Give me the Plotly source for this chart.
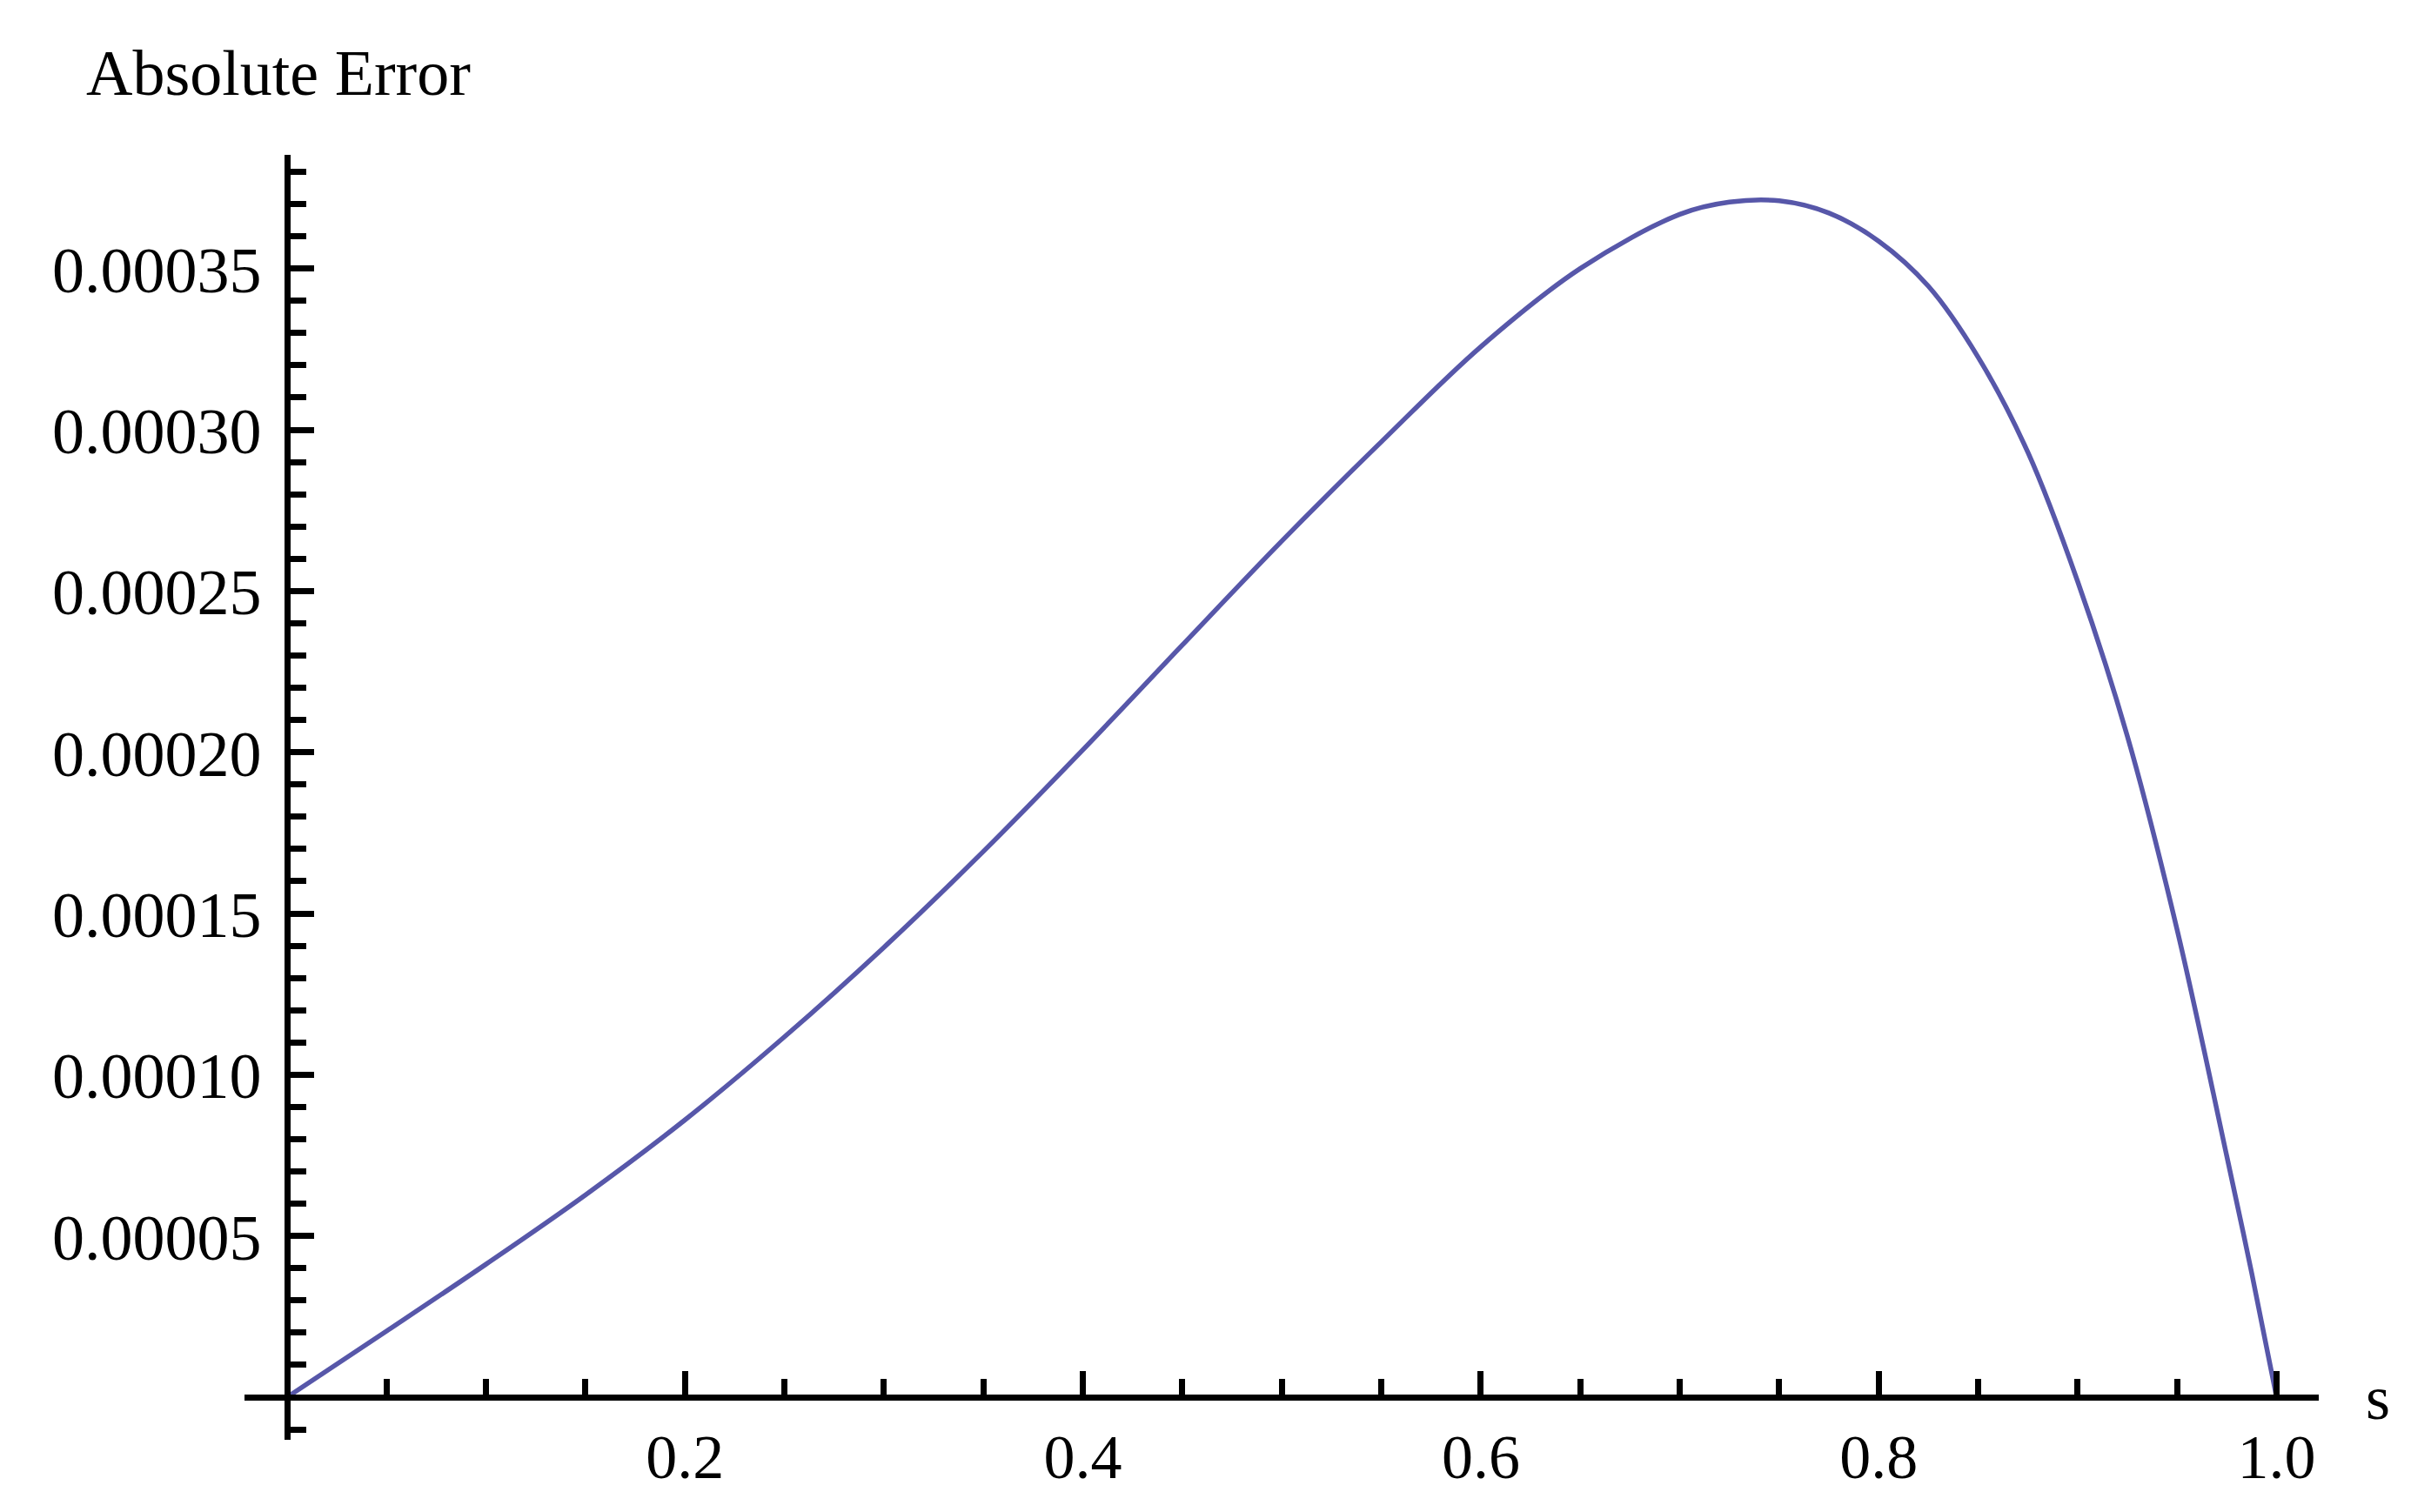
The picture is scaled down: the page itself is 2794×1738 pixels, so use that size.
import plotly.graph_objects as go

# Data
s_values = [0.0, 0.05, 0.10, 0.15, 0.20, 0.25, 0.30, 0.35, 0.40, 0.45, 0.50, 0.55,
            0.60, 0.65, 0.70, 0.725, 0.75, 0.775, 0.80, 0.825, 0.85, 0.875, 0.90,
            0.925, 0.95, 0.975, 0.9875, 1.0]
abs_error = [0.0, 2.05e-5, 4.125e-5, 6.275e-5, 8.60e-5, 1.1175e-4, 1.395e-4, 1.6925e-4,
             2.0075e-4, 2.3325e-4, 2.655e-4, 2.9625e-4, 3.2575e-4, 3.500e-4, 3.668e-4,
             3.706e-4, 3.710e-4, 3.672e-4, 3.585e-4, 3.445e-4, 3.225e-4, 2.930e-4,
             2.530e-4, 2.050e-4, 1.450e-4, 7.47e-5, 3.85e-5, 0.0]

x_tickvals = [0.2, 0.4, 0.6, 0.8, 1.0]
x_ticktext = ["0.2", "0.4", "0.6", "0.8", "1.0"]
y_tickvals = [5e-5, 1e-4, 1.5e-4, 2e-4, 2.5e-4, 3e-4, 3.5e-4]
y_ticktext = ["0.00005", "0.00010", "0.00015", "0.00020", "0.00025", "0.00030", "0.00035"]

# the page adds an 8px body margin, so the figure is made 16px smaller
W, H = 2778, 1722
ml, mt = 273, 170
PW, PH = 2384, 1477
mr = W - ml - PW
mb = H - mt - PH
x_range = [-0.02143, 1.02121]
y_range = [-1.3215e-5, 3.8525e-4]

xpos = (0 - y_range[0]) / (y_range[1] - y_range[0])
ypos = (0 - x_range[0]) / (x_range[1] - x_range[0])


def px_to_paper_x(px):
    return (px - ml) / PW


def px_to_paper_y(py):
    return (H - mb - py) / PH


FONT = "Liberation Serif, Times New Roman, serif"
FS_TICK = 72
FS_YTICK = 74
FS_TITLE = 74

fig = go.Figure()
fig.add_trace(go.Scatter(
    x=s_values, y=abs_error, mode="lines",
    line=dict(color="#5757a9", width=5.5, shape="spline", smoothing=1.0),
    showlegend=False, hoverinfo="skip",
))

annotations = [
    dict(text="Absolute Error", xref="paper", yref="paper",
         x=px_to_paper_x(89), y=px_to_paper_y(76),
         xanchor="left", yanchor="middle", showarrow=False,
         font=dict(family=FONT, size=FS_TITLE, color="black")),
    dict(text="s", xref="paper", yref="paper",
         x=px_to_paper_x(2725), y=px_to_paper_y(1599),
         xanchor="center", yanchor="middle", showarrow=False,
         font=dict(family=FONT, size=FS_TICK, color="black")),
]
# y-axis tick labels, placed on the y axis scale
for v, t in zip(y_tickvals, y_ticktext):
    annotations.append(dict(
        text=t, xref="paper", yref="y", x=px_to_paper_x(295), y=v,
        xanchor="right", yanchor="middle", showarrow=False, yshift=-2,
        font=dict(family=FONT, size=FS_YTICK, color="black")))

fig.update_layout(
    width=W, height=H,
    margin=dict(l=ml, r=mr, t=mt, b=mb, pad=0),
    paper_bgcolor="white", plot_bgcolor="white",
    font=dict(family=FONT, size=FS_TICK, color="black"),
    xaxis=dict(
        range=x_range, anchor="free", position=xpos,
        showgrid=False, zeroline=False,
        showline=True, linecolor="black", linewidth=7,
        tickmode="array", tickvals=x_tickvals, ticktext=x_ticktext,
        ticks="inside", ticklen=27, tickwidth=7, tickcolor="black",
        ticklabelstandoff=3,
        tickfont=dict(family=FONT, size=FS_TICK, color="black"),
        minor=dict(ticks="inside", ticklen=18, tickwidth=7, tickcolor="black",
                   tick0=0, dtick=0.05, showgrid=False),
    ),
    yaxis=dict(
        range=y_range, anchor="free", position=ypos,
        showgrid=False, zeroline=False,
        showline=True, linecolor="black", linewidth=7,
        tickmode="array", tickvals=y_tickvals, ticktext=y_ticktext,
        showticklabels=False,
        ticks="inside", ticklen=27, tickwidth=7, tickcolor="black",
        minor=dict(ticks="inside", ticklen=18, tickwidth=7, tickcolor="black",
                   tick0=0, dtick=1e-5, showgrid=False),
    ),
    annotations=annotations,
)

fig.write_html("out.html")
